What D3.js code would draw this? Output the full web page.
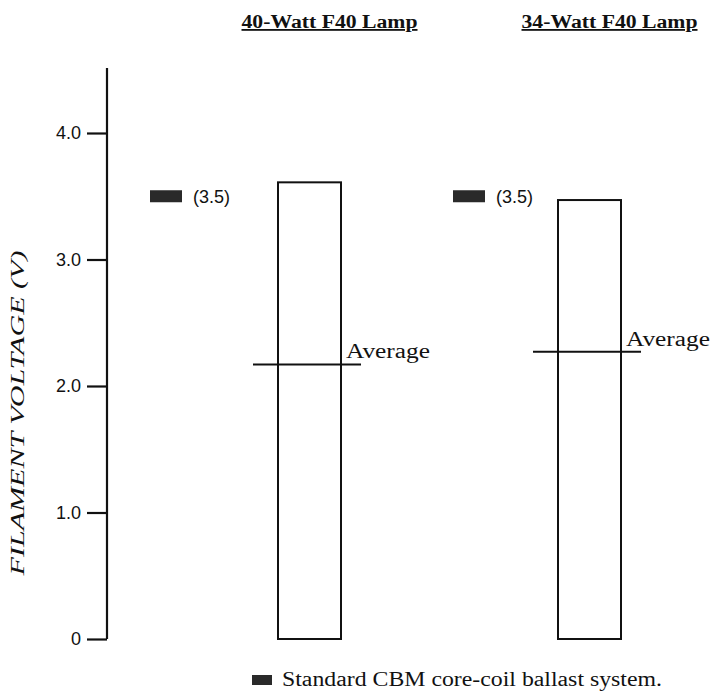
<!DOCTYPE html>
<html>
<head>
<meta charset="utf-8">
<script src="https://cdn.jsdelivr.net/npm/d3@7"></script>
<style>
  body { margin: 0; background: #fff; }
  svg { display: block; }
</style>
</head>
<body>
<div id="chart"></div>
<script>
'use strict';

// data
const lamps = ["40-Watt F40 Lamp", "34-Watt F40 Lamp"];
const maxVoltage = [3.61, 3.47];
const avgVoltage = [2.17, 2.27];
const standardVoltage = [3.5, 3.5];
const yTicks = [0, 1, 2, 3, 4];
const yTickLabels = ["0", "1.0", "2.0", "3.0", "4.0"];
const legendText = "Standard CBM core-coil ballast system.";

const w = 710, h = 694;

const svg = d3.select("#chart")
    .append("svg")
    .attr("width", w)
    .attr("height", h);

const y = d3.scaleLinear().domain([0, 4]).range([639, 133]);

// bars start at 278 and 558, 63 wide
const x = d3.scaleBand()
    .domain(lamps)
    .range([278, 621])
    .paddingInner(0.775)
    .paddingOuter(0);

// marker position relative to bar left (placed by hand in the original)
const markerOffset = [-128, -105];

const serif = "'Liberation Serif', 'DejaVu Serif', serif";
const sans = "'Liberation Sans', Arial, sans-serif";

// y axis
const yAxis = d3.axisLeft(y)
    .tickValues(yTicks)
    .tickFormat((d, i) => yTickLabels[i])
    .tickSize(20)
    .tickSizeOuter(0)
    .tickPadding(6);

const gy = svg.append("g")
    .attr("transform", "translate(107,0)")
    .call(yAxis);
gy.select(".domain")
    .attr("d", "M0," + y(0) + "V68")
    .attr("stroke", "#111")
    .attr("stroke-width", 2.2);
gy.selectAll(".tick line").attr("stroke", "#111").attr("stroke-width", 2.2);
gy.selectAll(".tick text")
    .attr("font-family", sans)
    .attr("font-size", 18)
    .attr("fill", "#111");

svg.append("text")
    .attr("transform", "translate(24,413) rotate(-90)")
    .attr("text-anchor", "middle")
    .attr("font-family", serif)
    .attr("font-style", "italic")
    .attr("font-size", 18)
    .attr("textLength", 325)
    .attr("lengthAdjust", "spacingAndGlyphs")
    .attr("fill", "#111")
    .text("FILAMENT VOLTAGE (V)");

// titles
svg.selectAll(".title")
    .data(lamps)
    .enter()
    .append("text")
    .attr("class", "title")
    .attr("x", d => x(d) + x.bandwidth() / 2 + 20)
    .attr("y", 28)
    .attr("text-anchor", "middle")
    .attr("font-family", serif)
    .attr("font-weight", "bold")
    .attr("font-size", 18)
    .attr("text-decoration", "underline")
    .attr("textLength", 176)
    .attr("lengthAdjust", "spacingAndGlyphs")
    .attr("fill", "#111")
    .text(d => d);

// bars
svg.selectAll(".bar")
    .data(lamps)
    .enter()
    .append("rect")
    .attr("class", "bar")
    .attr("x", d => x(d))
    .attr("y", (d, i) => y(maxVoltage[i]))
    .attr("width", x.bandwidth())
    .attr("height", (d, i) => y(0) - y(maxVoltage[i]))
    .attr("fill", "none")
    .attr("stroke", "#111")
    .attr("stroke-width", 2);

// averages
svg.selectAll(".avg")
    .data(lamps)
    .enter()
    .append("line")
    .attr("class", "avg")
    .attr("x1", d => x(d) - 25)
    .attr("x2", d => x(d) + x.bandwidth() + 20)
    .attr("y1", (d, i) => y(avgVoltage[i]))
    .attr("y2", (d, i) => y(avgVoltage[i]))
    .attr("stroke", "#111")
    .attr("stroke-width", 2);

svg.selectAll(".avgLabel")
    .data(lamps)
    .enter()
    .append("text")
    .attr("class", "avgLabel")
    .attr("x", d => x(d) + x.bandwidth() + 5)
    .attr("y", (d, i) => y(avgVoltage[i]) - 6)
    .attr("font-family", serif)
    .attr("font-size", 20)
    .attr("textLength", 84)
    .attr("lengthAdjust", "spacingAndGlyphs")
    .attr("fill", "#111")
    .text("Average");

// standard ballast markers
svg.selectAll(".std")
    .data(lamps)
    .enter()
    .append("rect")
    .attr("class", "std")
    .attr("x", (d, i) => x(d) + markerOffset[i])
    .attr("y", (d, i) => y(standardVoltage[i]) - 6)
    .attr("width", 32)
    .attr("height", 12)
    .attr("fill", "#2a2a2a");

svg.selectAll(".stdLabel")
    .data(lamps)
    .enter()
    .append("text")
    .attr("class", "stdLabel")
    .attr("x", (d, i) => x(d) + markerOffset[i] + 43)
    .attr("y", (d, i) => y(standardVoltage[i]) + 7)
    .attr("font-family", sans)
    .attr("font-size", 18)
    .attr("fill", "#111")
    .text((d, i) => "(" + standardVoltage[i] + ")");

// legend
const legend = svg.append("g").attr("transform", "translate(252,686)");
legend.append("rect")
    .attr("x", 0)
    .attr("y", -11)
    .attr("width", 20)
    .attr("height", 10)
    .attr("fill", "#2a2a2a");
legend.append("text")
    .attr("x", 30)
    .attr("y", 0)
    .attr("font-family", serif)
    .attr("font-size", 20)
    .attr("textLength", 380)
    .attr("lengthAdjust", "spacingAndGlyphs")
    .attr("fill", "#111")
    .text(legendText);
</script>
</body>
</html>
